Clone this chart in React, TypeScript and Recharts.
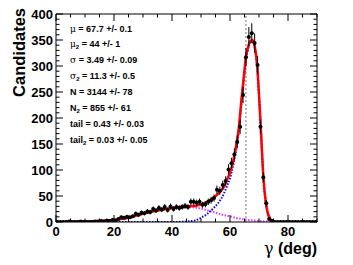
import React from "react";
import {
  ComposedChart,
  Line,
  Scatter,
  ErrorBar,
  XAxis,
  YAxis,
  ReferenceLine,
} from "recharts";

// histogram: bin centres (deg), candidates per bin, poisson errors
const binCenters = [
  0.5, 1.5, 2.5, 3.5, 4.5, 5.5, 6.5, 7.5, 8.5, 9.5, 10.5, 11.5, 12.5, 13.5, 14.5,
  15.5, 16.5, 17.5, 18.5, 19.5, 20.5, 21.5, 22.5, 23.5, 24.5, 25.5, 26.5, 27.5,
  28.5, 29.5, 30.5, 31.5, 32.5, 33.5, 34.5, 35.5, 36.5, 37.5, 38.5, 39.5, 40.5,
  41.5, 42.5, 43.5, 44.5, 45.5, 46.5, 47.5, 48.5, 49.5, 50.5, 51.5, 52.5, 53.5,
  54.5, 55.5, 56.5, 57.5, 58.5, 59.5, 60.5, 61.5, 62.5, 63.5, 64.5, 65.5, 66.5,
  67.5, 68.5, 69.5, 70.5, 71.5, 72.5, 73.5, 74.5, 75.5, 76.5, 77.5, 78.5, 79.5,
  80.5, 81.5, 82.5, 83.5, 84.5, 85.5, 86.5, 87.5, 88.5, 89.5,
];
const counts = [
  0, 0, 0, 0, 1, 0, 0, 0, 1, 0, 0, 0, 0, 1, 1,
  2, 1, 3, 2, 4, 3, 6, 9, 8, 10, 9, 11, 16,
  14, 18, 17, 20, 19, 25, 22, 27, 24, 29, 23, 30, 25,
  29, 27, 29, 31, 29, 39, 39, 37, 39, 33, 34, 39, 42,
  46, 62, 60, 71, 79, 101, 113, 130, 154, 183, 244, 317, 356,
  363, 344, 302, 183, 86, 36, 6, 2, 0, 0, 0, 0, 0,
  0, 0, 0, 0, 0, 0, 0, 0, 0, 0,
];
const errors = [
  0, 0, 0, 0, 1, 0, 0, 0, 1, 0, 0, 0, 0, 1, 1,
  1.4, 1, 1.7, 1.4, 2, 1.7, 2.4, 3, 2.8, 3.2, 3, 3.3, 4,
  3.7, 4.2, 4.1, 4.5, 4.4, 5, 4.7, 5.2, 4.9, 5.4, 4.8, 5.5, 5,
  5.4, 5.2, 5.4, 5.6, 5.4, 6.2, 6.2, 6.1, 6.2, 5.7, 5.8, 6.2, 6.5,
  6.8, 7.9, 7.7, 8.4, 8.9, 10, 10.6, 11.4, 12.4, 13.5, 15.6, 17.8, 18.9,
  19.1, 18.5, 17.4, 13.5, 9.3, 6, 2.4, 1.4, 0, 0, 0, 0, 0,
  0, 0, 0, 0, 0, 0, 0, 0, 0, 0,
];

// total fit (red)
const totalX = [
  0, 5, 10, 15, 20, 25, 30, 35, 40, 44, 46, 48, 50, 52, 54, 56, 58, 59, 60, 61,
  62, 63, 64, 65, 65.5, 66, 66.9, 67.7, 68.6, 69.4, 70.1, 70.6, 71.5, 72.4, 73,
  73.8, 74.7, 76, 90,
];
const totalY = [
  0, 0.3, 0.8, 2, 4, 8, 16, 22, 27, 29.5, 30.5, 31, 34, 38, 45, 55, 69, 82, 95,
  115, 143, 179, 238, 292, 318, 331, 347, 350, 336, 299, 235, 184, 87, 36, 18, 7,
  0.5, 0, 0,
];

// main peak component (blue)
const peakX = [
  0, 40, 44, 46, 48, 50, 52, 54, 56, 58, 59, 60, 61, 62, 63, 64, 65, 65.5, 66,
  66.9, 67.7, 68.6, 69.4, 70.1, 70.6, 71.5, 72.4, 73, 73.8, 74.7, 76, 90,
];
const peakY = [
  0, 0, 0.5, 1.5, 3, 8, 15, 25, 37, 56, 70, 84, 106, 135, 172, 232, 287, 313,
  327, 344, 347, 333, 296, 233, 182, 86, 35, 17, 6.5, 0.3, 0, 0,
];

// second component (magenta)
const bkgX = [
  0, 5, 10, 15, 20, 25, 30, 35, 40, 44, 48, 50, 52, 55, 58, 60, 62, 64, 66, 68,
  70, 72, 74, 76, 80, 90,
];
const bkgY = [
  0, 0.3, 0.8, 2, 4, 8, 16, 22, 27, 29, 28, 26, 23, 18, 13, 11, 8, 6, 4, 3, 2,
  1, 0.5, 0.2, 0, 0,
];

const xTicks = [0, 5, 10, 15, 20, 25, 30, 35, 40, 45, 50, 55, 60, 65, 70, 75, 80, 85, 90];
const xMajor = [0, 20, 40, 60, 80];
const yTicks = [
  0, 10, 20, 30, 40, 50, 60, 70, 80, 90, 100, 110, 120, 130, 140, 150, 160, 170,
  180, 190, 200, 210, 220, 230, 240, 250, 260, 270, 280, 290, 300, 310, 320, 330,
  340, 350, 360, 370, 380, 390, 400,
];
const yMajor = [0, 50, 100, 150, 200, 250, 300, 350, 400];
const cutValue = 65.5;

const fitLabels = [
  { sym: "μ", sub: "", val: "67.7 +/- 0.1" },
  { sym: "μ", sub: "2", val: "44 +/- 1" },
  { sym: "σ", sub: "", val: "3.49 +/- 0.09" },
  { sym: "σ", sub: "2", val: "11.3 +/- 0.5" },
  { sym: "N", sub: "", val: "3144 +/- 78" },
  { sym: "N", sub: "2", val: "855 +/- 61" },
  { sym: "tail", sub: "", val: "0.43 +/- 0.03" },
  { sym: "tail", sub: "2", val: "0.03 +/- 0.05" },
];

const points = binCenters.map((x, i) => ({ x, y: counts[i], err: errors[i] }));
const toXY = (xs: number[], ys: number[]) => xs.map((x, i) => ({ x, y: ys[i] }));
const totalData = toXY(totalX, totalY);
const peakData = toXY(peakX, peakY);
const bkgData = toXY(bkgX, bkgY);

const FONT = "'Liberation Sans', Arial, Helvetica, sans-serif";

const BottomTick = (p: any) => {
  const v = p.payload.value;
  const major = xMajor.includes(v);
  return (
    <g>
      <line x1={p.x} x2={p.x} y1={p.y} y2={p.y - (major ? 7 : 3.5)} stroke="#000" />
      {major && (
        <text x={p.x} y={p.y + 14} textAnchor="middle" fontFamily={FONT} fontWeight="bold" fontSize={13} fill="#000">
          {v}
        </text>
      )}
    </g>
  );
};

const TopTick = (p: any) => {
  const major = xMajor.includes(p.payload.value);
  return <line x1={p.x} x2={p.x} y1={p.y} y2={p.y + (major ? 7 : 3.5)} stroke="#000" />;
};

const LeftTick = (p: any) => {
  const v = p.payload.value;
  const major = yMajor.includes(v);
  return (
    <g>
      <line x1={p.x} x2={p.x + (major ? 7 : 3.5)} y1={p.y} y2={p.y} stroke="#000" />
      {major && (
        <text x={p.x - 3} y={p.y + 4.5} textAnchor="end" fontFamily={FONT} fontWeight="bold" fontSize={13} fill="#000">
          {v}
        </text>
      )}
    </g>
  );
};

const RightTick = (p: any) => {
  const major = yMajor.includes(p.payload.value);
  return <line x1={p.x} x2={p.x - (major ? 7 : 3.5)} y1={p.y} y2={p.y} stroke="#000" />;
};

const Dot = (p: any) => <circle cx={p.cx} cy={p.cy} r={2} fill="#000" />;

export default function App() {
  return (
    <div style={{ position: "absolute", left: 0, top: 0, width: 353, height: 265, background: "#fff" }}>
      <ComposedChart width={353} height={265} margin={{ top: 13, right: 35, bottom: 0, left: 0 }}>
        <XAxis
          xAxisId="b"
          dataKey="x"
          type="number"
          domain={[0, 90]}
          allowDataOverflow
          ticks={xTicks}
          interval={0}
          height={43}
          tickSize={0}
          tickMargin={0}
          tickLine={false}
          tick={BottomTick}
          axisLine={{ stroke: "#000" }}
        />
        <XAxis
          xAxisId="t"
          orientation="top"
          dataKey="x"
          type="number"
          domain={[0, 90]}
          allowDataOverflow
          ticks={xTicks}
          interval={0}
          height={1}
          tickSize={0}
          tickMargin={0}
          tickLine={false}
          tick={TopTick}
          axisLine={{ stroke: "#000" }}
        />
        <YAxis
          yAxisId="l"
          dataKey="y"
          type="number"
          domain={[0, 400]}
          allowDataOverflow
          ticks={yTicks}
          interval={0}
          width={56}
          tickSize={0}
          tickMargin={0}
          tickLine={false}
          tick={LeftTick}
          axisLine={{ stroke: "#000" }}
        />
        <YAxis
          yAxisId="r"
          orientation="right"
          dataKey="y"
          type="number"
          domain={[0, 400]}
          allowDataOverflow
          ticks={yTicks}
          interval={0}
          width={1}
          tickSize={0}
          tickMargin={0}
          tickLine={false}
          tick={RightTick}
          axisLine={{ stroke: "#000" }}
        />

        <ReferenceLine xAxisId="b" yAxisId="l" x={cutValue} stroke="#777" strokeDasharray="2 2" strokeWidth={1} />

        <Line xAxisId="t" yAxisId="r" data={bkgData} dataKey="y" stroke="none" dot={false} isAnimationActive={false} />
        <Line xAxisId="b" yAxisId="l" data={bkgData} dataKey="y" type="monotone" stroke="#dd33ff" strokeWidth={2} strokeDasharray="1.5 1.5" dot={false} isAnimationActive={false} />
        <Line xAxisId="b" yAxisId="l" data={peakData} dataKey="y" type="monotone" stroke="#0000ff" strokeWidth={2} strokeDasharray="1.5 1.5" dot={false} isAnimationActive={false} />
        <Line xAxisId="b" yAxisId="l" data={totalData} dataKey="y" type="monotone" stroke="#ff0000" strokeWidth={2.5} dot={false} isAnimationActive={false} />

        <Scatter xAxisId="b" yAxisId="l" data={points} dataKey="y" shape={Dot} isAnimationActive={false}>
          <ErrorBar dataKey="err" direction="y" width={0} stroke="#000" strokeWidth={1} />
        </Scatter>
      </ComposedChart>

      <svg width={353} height={265} style={{ position: "absolute", left: 0, top: 0, pointerEvents: "none" }}>
        <text transform="translate(25,8) rotate(-90)" textAnchor="end" fontFamily={FONT} fontWeight="bold" fontSize={16.5} fill="#000">
          Candidates
        </text>
        <text x={317} y={254} textAnchor="end" fontFamily={FONT} fontSize={16} fill="#000">
          <tspan fontFamily="'DejaVu Serif', serif">γ</tspan>
          <tspan fontWeight="bold"> (deg)</tspan>
        </text>
        {fitLabels.map((l, i) => (
          <text key={i} x={70} y={31.5 + i * 15.86} fontFamily={FONT} fontSize={9} fontWeight="bold" fill="#000">
            {l.sym === "μ" || l.sym === "σ" ? (
              <tspan fontWeight="normal" fontFamily="'DejaVu Serif', serif">{l.sym}</tspan>
            ) : (
              <tspan>{l.sym}</tspan>
            )}
            {l.sub && (
              <tspan fontSize={6} dy={2}>
                {l.sub}
              </tspan>
            )}
            <tspan dy={l.sub ? -2 : 0}>{" =  " + l.val}</tspan>
          </text>
        ))}
      </svg>
    </div>
  );
}
